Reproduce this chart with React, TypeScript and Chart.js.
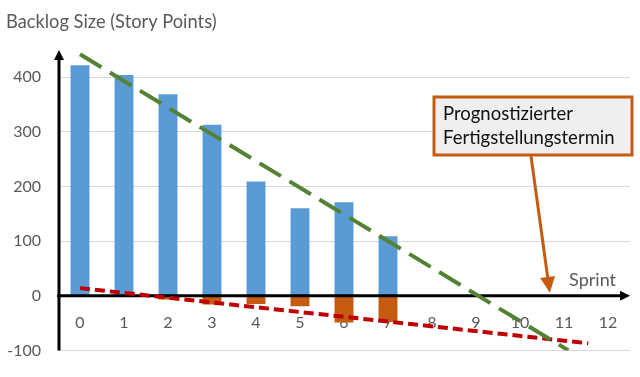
import React, { useEffect, useRef } from "react";
import { Chart, registerables } from "chart.js";

Chart.register(...registerables);

// ---- data ----
const sprints = ["0", "1", "2", "3", "4", "5", "6", "7", "8", "9", "10", "11", "12"];
const remainingWork = [422, 404, 369, 313, 209, 160, 171, 109, null, null, null, null, null];
const addedWork = [0, 0, -7, -16, -15, -19, -49, -48, null, null, null, null, null];
const remainingTrendX = [0, 11.1];
const remainingTrendY = [442, -100];
const addedTrendX = [0, 11.55];
const addedTrendY = [14, -87];
const yTickValues = [-100, 0, 100, 200, 300, 400];

const chartTitle = "Backlog Size (Story Points)";
const xAxisTitle = "Sprint";
const calloutLines = ["Prognostizierter", "Fertigstellungstermin"];

const FONT = "Lato, 'Open Sans', sans-serif";
const GREY = "#595959";
const ORANGE = "#c55a11";

function lineFromArrays(xs: number[], ys: number[]) {
  return xs.map((x, i) => ({ x, y: ys[i] }));
}

function intersection() {
  const s1 = (remainingTrendY[1] - remainingTrendY[0]) / (remainingTrendX[1] - remainingTrendX[0]);
  const s2 = (addedTrendY[1] - addedTrendY[0]) / (addedTrendX[1] - addedTrendX[0]);
  return (addedTrendY[0] - remainingTrendY[0]) / (s1 - s2);
}

const decorPlugin = {
  id: "decor",
  beforeDatasetsDraw(chart: any) {
    chart.$axesDrawn = false;
  },
  beforeDatasetDraw(chart: any, args: any) {
    const ds = chart.data.datasets[args.index];
    if (ds.type === "line" && !chart.$axesDrawn) {
      chart.$axesDrawn = true;
      drawAxes(chart);
    }
  },
  afterDraw(chart: any) {
    const ctx = chart.ctx;
    const x2 = chart.scales.x2;
    const y = chart.scales.y;
    ctx.save();
    // Sprint label
    ctx.fillStyle = GREY;
    ctx.font = `18px ${FONT}`;
    ctx.textAlign = "right";
    ctx.textBaseline = "middle";
    ctx.fillText(xAxisTitle, 616, y.getPixelForValue(0) - 16);

    // callout box
    const bx = 434, by = 97, bw = 198, bh = 58;
    ctx.fillStyle = "#efefef";
    ctx.fillRect(bx, by, bw, bh);
    ctx.strokeStyle = ORANGE;
    ctx.lineWidth = 3;
    ctx.strokeRect(bx, by, bw, bh);
    ctx.fillStyle = "#111";
    ctx.font = `18.5px ${FONT}`;
    ctx.textAlign = "left";
    ctx.textBaseline = "middle";
    ctx.fillText(calloutLines[0], bx + 9, by + 17);
    ctx.fillText(calloutLines[1], bx + 9, by + 41);

    // arrow
    const tipX = x2.getPixelForValue(intersection());
    const tipY = y.getPixelForValue(0) - 3;
    const sx = 531, sy = by + bh + 1;
    const ang = Math.atan2(tipY - sy, tipX - sx);
    const headLen = 16, headW = 7.5;
    const baseX = tipX - headLen * Math.cos(ang);
    const baseY = tipY - headLen * Math.sin(ang);
    ctx.beginPath();
    ctx.moveTo(sx, sy);
    ctx.lineTo(baseX, baseY);
    ctx.lineWidth = 3;
    ctx.stroke();
    ctx.beginPath();
    ctx.moveTo(tipX, tipY);
    ctx.lineTo(baseX + headW * Math.sin(ang), baseY - headW * Math.cos(ang));
    ctx.lineTo(baseX - headW * Math.sin(ang), baseY + headW * Math.cos(ang));
    ctx.closePath();
    ctx.fillStyle = ORANGE;
    ctx.fill();
    ctx.restore();
  },
};

function drawAxes(chart: any) {
  const ctx = chart.ctx;
  const area = chart.chartArea;
  const y = chart.scales.y;
  const y0 = y.getPixelForValue(0);
  const ax = area.left + 1;
  ctx.save();
  ctx.strokeStyle = "#000";
  ctx.fillStyle = "#000";
  ctx.lineWidth = 3;
  ctx.beginPath();
  ctx.moveTo(ax, area.bottom);
  ctx.lineTo(ax, area.top + 8);
  ctx.stroke();
  ctx.beginPath();
  ctx.moveTo(ax, area.top);
  ctx.lineTo(ax - 5, area.top + 10);
  ctx.lineTo(ax + 5, area.top + 10);
  ctx.closePath();
  ctx.fill();
  ctx.beginPath();
  ctx.moveTo(area.left - 1, y0);
  ctx.lineTo(area.right - 8, y0);
  ctx.stroke();
  ctx.beginPath();
  ctx.moveTo(area.right, y0);
  ctx.lineTo(area.right - 10, y0 - 5);
  ctx.lineTo(area.right - 10, y0 + 5);
  ctx.closePath();
  ctx.fill();
  ctx.restore();
}

export default function App() {
  const ref = useRef<HTMLCanvasElement>(null);
  useEffect(() => {
    if (!ref.current) return;
    const chart = new Chart(ref.current, {
      type: "bar",
      data: {
        labels: sprints,
        datasets: [
          {
            type: "line",
            label: "Trend Restaufwand",
            data: lineFromArrays(remainingTrendX, remainingTrendY) as any,
            xAxisID: "x2",
            borderColor: "#548235",
            borderWidth: 4,
            borderDash: [25, 10],
            pointRadius: 0,
            fill: false,
            order: 0,
          } as any,
          {
            type: "line",
            label: "Trend Zusatzaufwand",
            data: lineFromArrays(addedTrendX, addedTrendY) as any,
            xAxisID: "x2",
            borderColor: "#c00000",
            borderWidth: 4,
            borderDash: [10, 5],
            pointRadius: 0,
            fill: false,
            order: 0,
          } as any,
          {
            type: "bar",
            label: "Restaufwand",
            data: remainingWork,
            backgroundColor: "#5b9bd5",
            barPercentage: 0.43,
            categoryPercentage: 1,
            grouped: false,
            order: 1,
          } as any,
          {
            type: "bar",
            label: "Zusatzaufwand",
            data: addedWork,
            backgroundColor: ORANGE,
            barPercentage: 0.43,
            categoryPercentage: 1,
            grouped: false,
            order: 1,
          } as any,
        ],
      },
      options: {
        animation: false,
        responsive: true,
        maintainAspectRatio: false,
        layout: { padding: { left: 6, right: 10, top: 0, bottom: 25 } },
        plugins: {
          legend: { display: false },
          tooltip: { enabled: false },
          title: {
            display: true,
            text: chartTitle,
            align: "start",
            color: GREY,
            font: { family: FONT, size: 18.3, weight: "normal" },
            padding: { top: 11, bottom: 17 },
          },
        },
        scales: {
          x: {
            type: "category",
            position: { y: 0 } as any,
            offset: true,
            grid: { display: false, drawTicks: false },
            border: { display: false },
            ticks: {
              color: GREY,
              font: { family: FONT, size: 16 },
              padding: 17,
              maxRotation: 0,
              autoSkip: false,
            },
          },
          x2: {
            type: "linear",
            position: "bottom",
            display: true,
            offset: false,
            min: -0.5,
            max: 12.5,
            grid: { display: false, drawTicks: false, offset: false },
            border: { display: false },
            ticks: { display: false },
            afterFit: (s: any) => {
              s.height = 0;
            },
          },
          y: {
            type: "linear",
            min: -100,
            max: 450,
            ticks: {
              stepSize: 100,
              color: GREY,
              font: { family: FONT, size: 16 },
              padding: 17,
            },
            afterBuildTicks: (s: any) => {
              s.ticks = yTickValues.map((v) => ({ value: v }));
            },
            afterFit: (s: any) => {
              s.width = 52;
            },
            grid: { color: "#d9d9d9", lineWidth: 1, drawTicks: false },
            border: { display: false },
          },
        },
      },
      plugins: [decorPlugin],
    });
    return () => chart.destroy();
  }, []);
  return (
    <div style={{ position: "fixed", left: 0, top: 0, width: 640, height: 377, background: "#fff" }}>
      <canvas ref={ref} />
    </div>
  );
}
